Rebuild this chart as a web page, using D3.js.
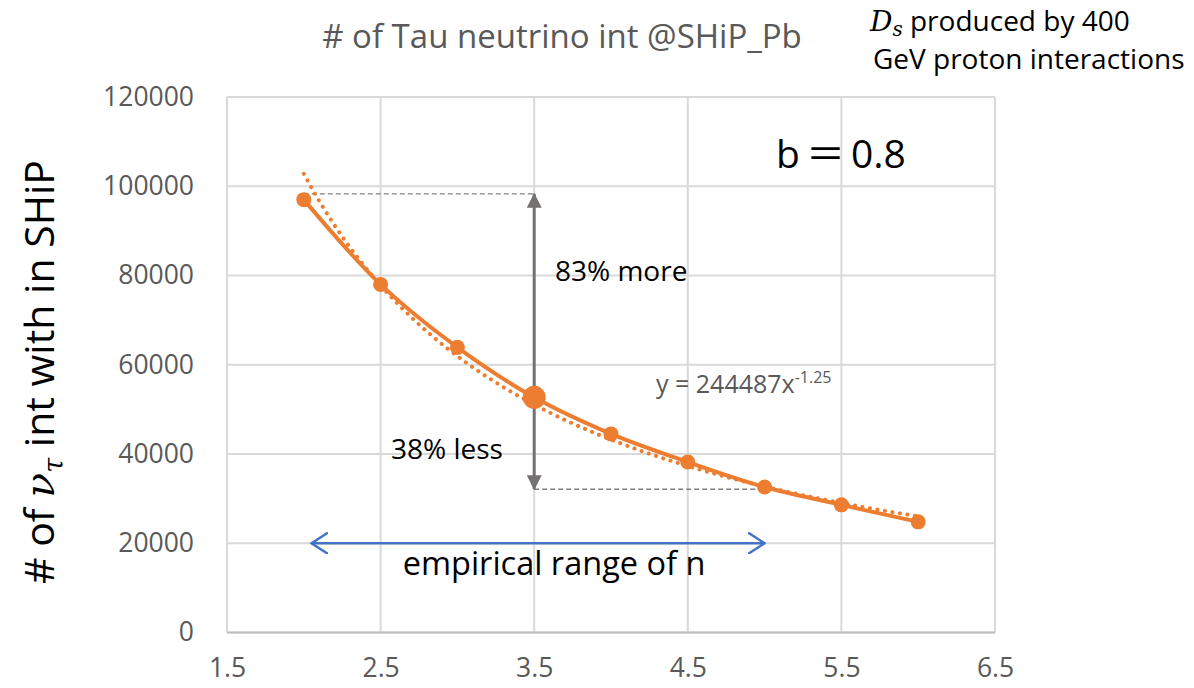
<!doctype html>
<html lang="en">
  <head>
    <meta charset="utf-8">
    <title>Tau neutrino interactions at SHiP</title>
    <script src="https://d3js.org/d3.v7.min.js"></script>
    <style>
      body { margin: 0; background: #fff; }
      text { font-family: "Open Sans", "Noto Sans", sans-serif; }
    </style>
  </head>

  <body>
    <svg width="1194" height="688"></svg>

    <script>
      // data
      var nValues = [2, 2.5, 3, 3.5, 4, 4.5, 5, 5.5, 6];
      var counts = [97000, 78000, 63900, 52700, 44500, 38200, 32600, 28600, 24800];
      var xTicks = [1.5, 2.5, 3.5, 4.5, 5.5, 6.5];
      var yTicks = [0, 20000, 40000, 60000, 80000, 100000, 120000];
      // power-law trendline as printed on the chart
      var trendCoef = 244487;
      var trendExp = -1.25;
      var centralN = 3.5;
      var upperVal = 98300;   // level of upper dashed guide
      var lowerVal = 32100;   // level of lower dashed guide
      var rangeN = [2.05, 5];  // empirical range of n
      var rangeY = 20000;

      var svg = d3.select('svg');
      var orange = '#ED7D31', grid = '#D9D9D9', grey = '#595959';

      var x = d3.scaleLinear().domain([1.5, 6.5]).range([227, 995]);
      var y = d3.scaleLinear().domain([0, 120000]).range([632.5, 97]);

      // gridlines
      svg.append('g').selectAll('line').data(yTicks).join('line')
        .attr('x1', x(1.5)).attr('x2', x(6.5))
        .attr('y1', function(d){ return y(d); }).attr('y2', function(d){ return y(d); })
        .attr('stroke', grid).attr('stroke-width', 2);
      svg.append('g').selectAll('line').data(xTicks).join('line')
        .attr('x1', function(d){ return x(d); }).attr('x2', function(d){ return x(d); })
        .attr('y1', y(0)).attr('y2', y(120000))
        .attr('stroke', grid).attr('stroke-width', 2);

      // axes (labels only, Excel style)
      var yAxis = svg.append('g').attr('transform', 'translate(' + (x(1.5) - 30) + ',0)')
        .call(d3.axisLeft(y).tickValues(yTicks).tickSize(0).tickFormat(d3.format('d')));
      var xAxis = svg.append('g').attr('transform', 'translate(0,' + (y(0) + 23) + ')')
        .call(d3.axisBottom(x).tickValues(xTicks).tickSize(0).tickFormat(d3.format('.1f')));
      [yAxis, xAxis].forEach(function(a){
        a.select('.domain').remove();
        a.selectAll('text').attr('fill', grey).style('font-size', '26.5px')
          .style('font-family', '"Open Sans", sans-serif');
      });
      svg.append('line').attr('x1', x(1.5)).attr('x2', x(6.5)).attr('y1', y(0)).attr('y2', y(0))
        .attr('stroke', '#BFBFBF').attr('stroke-width', 2);

      // dashed guides
      svg.append('line').attr('x1', x(2)).attr('x2', x(centralN))
        .attr('y1', y(upperVal)).attr('y2', y(upperVal))
        .attr('stroke', '#808080').attr('stroke-width', 1.3).attr('stroke-dasharray', '5,3');
      svg.append('line').attr('x1', x(centralN)).attr('x2', x(5))
        .attr('y1', y(lowerVal)).attr('y2', y(lowerVal))
        .attr('stroke', '#808080').attr('stroke-width', 1.3).attr('stroke-dasharray', '5,3');

      // defs: arrowheads
      var defs = svg.append('defs');
      defs.append('marker').attr('id', 'tri').attr('viewBox', '0 0 15 15')
        .attr('refX', 14).attr('refY', 7.5).attr('markerWidth', 15).attr('markerHeight', 15)
        .attr('markerUnits', 'userSpaceOnUse').attr('orient', 'auto-start-reverse')
        .append('path').attr('d', 'M0,0 L15,7.5 L0,15 Z').attr('fill', '#767171');
      defs.append('marker').attr('id', 'chev').attr('viewBox', '0 0 18 22')
        .attr('refX', 16.5).attr('refY', 11).attr('markerWidth', 18).attr('markerHeight', 22)
        .attr('markerUnits', 'userSpaceOnUse').attr('orient', 'auto-start-reverse')
        .append('path').attr('d', 'M1,1 L16.5,11 L1,21').attr('fill', 'none')
        .attr('stroke', '#4472C4').attr('stroke-width', 2.5).attr('stroke-linecap', 'round');

      // vertical double arrow
      svg.append('line').attr('x1', x(centralN)).attr('x2', x(centralN))
        .attr('y1', y(upperVal)).attr('y2', y(lowerVal))
        .attr('stroke', '#767171').attr('stroke-width', 3)
        .attr('marker-start', 'url(#tri)').attr('marker-end', 'url(#tri)');

      // empirical range arrow
      svg.append('line').attr('x1', x(rangeN[0])).attr('x2', x(rangeN[1]))
        .attr('y1', y(rangeY)).attr('y2', y(rangeY))
        .attr('stroke', '#4472C4').attr('stroke-width', 2.5)
        .attr('marker-start', 'url(#chev)').attr('marker-end', 'url(#chev)');

      // trendline (dotted)
      var trendPts = d3.range(nValues[0], nValues[nValues.length - 1] + 0.001, 0.05)
        .map(function(n){ return [n, trendCoef * Math.pow(n, trendExp)]; });
      svg.append('path').datum(trendPts)
        .attr('d', d3.line().x(function(d){ return x(d[0]); }).y(function(d){ return y(d[1]); }))
        .attr('fill', 'none').attr('stroke', orange).attr('stroke-width', 4)
        .attr('stroke-dasharray', '0.1,7.5').attr('stroke-linecap', 'round');

      // smoothed data line
      var pts = nValues.map(function(n, i){ return [n, counts[i]]; });
      svg.append('path').datum(pts)
        .attr('d', d3.line().curve(d3.curveCatmullRom.alpha(0.5))
          .x(function(d){ return x(d[0]); }).y(function(d){ return y(d[1]); }))
        .attr('fill', 'none').attr('stroke', orange).attr('stroke-width', 4);

      svg.append('g').selectAll('circle').data(pts).join('circle')
        .attr('cx', function(d){ return x(d[0]); }).attr('cy', function(d){ return y(d[1]); })
        .attr('r', function(d){ return d[0] === centralN ? 11.5 : 7.5; })
        .attr('fill', orange);

      // texts
      svg.append('text').attr('x', 562).attr('y', 48).attr('text-anchor', 'middle')
        .attr('fill', grey).style('font-size', '33px').text('# of Tau neutrino int @SHiP_Pb');

      var note = svg.append('text').attr('fill', '#000').style('font-size', '28px');
      var l1 = note.append('tspan').attr('x', 870).attr('y', 31);
      l1.append('tspan').style('font-family', '"DejaVu Serif", serif').style('font-style', 'italic').text('D');
      l1.append('tspan').style('font-family', '"DejaVu Serif", serif').style('font-style', 'italic')
        .style('font-size', '20px').attr('dy', 5).text('s');
      l1.append('tspan').attr('dy', -5).text(' produced by 400');
      note.append('tspan').attr('x', 873).attr('y', 69).text('GeV proton interactions');

      var bt = svg.append('text').attr('x', 776).attr('y', 168).style('font-size', '39px');
      bt.append('tspan').text('b');
      bt.append('tspan').attr('dx', 6).style('font-family', '"Noto Sans CJK JP", sans-serif').text('＝');
      bt.append('tspan').attr('dx', 6).text('0.8');

      svg.append('text').attr('x', 555).attr('y', 281).style('font-size', '28px').text('83% more');
      svg.append('text').attr('x', 391).attr('y', 459).style('font-size', '28px').text('38% less');
      svg.append('text').attr('x', 554).attr('y', 575).attr('text-anchor', 'middle')
        .style('font-size', '32.5px').text('empirical range of n');

      var eq = svg.append('text').attr('x', 656).attr('y', 393).attr('fill', grey).style('font-size', '25px');
      eq.append('tspan').text('y = ' + trendCoef + 'x');
      eq.append('tspan').attr('dy', -10).style('font-size', '16px').text(String(trendExp));

      var yl = svg.append('text').attr('transform', 'translate(54,372) rotate(-90)')
        .attr('text-anchor', 'middle').style('font-size', '41px');
      yl.append('tspan').text('# of ');
      yl.append('tspan').style('font-family', '"DejaVu Serif", serif').style('font-style', 'italic').text('ν');
      yl.append('tspan').style('font-family', '"DejaVu Serif", serif').style('font-style', 'italic')
        .style('font-size', '27px').attr('dy', 9).text('τ');
      yl.append('tspan').attr('dy', -9).text(' int with in SHiP');
    </script>
  </body>
</html>
